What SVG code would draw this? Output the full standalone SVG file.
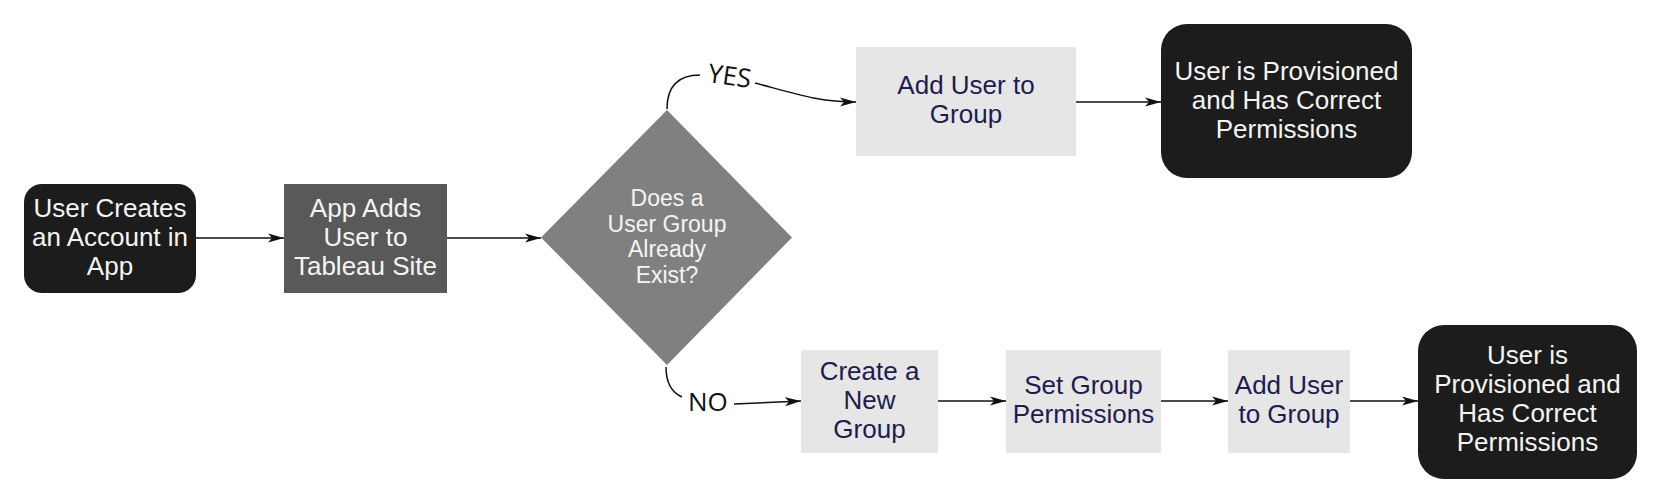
<svg xmlns="http://www.w3.org/2000/svg" width="1664" height="502" viewBox="0 0 1664 502">
<style>
.t{font-family:"Liberation Sans",Arial,sans-serif;font-size:26px;text-anchor:middle}
.w{fill:#f4f4f4}
.n{fill:#1e1c4e}
.d{font-family:"Liberation Sans",Arial,sans-serif;font-size:23px;text-anchor:middle;fill:#f4f4f4}
.lbl{font-family:"Open Sans","DejaVu Sans",sans-serif;font-size:26px;fill:#111}
.c{fill:none;stroke:#111;stroke-width:1.5}
.dark{fill:#1c1c1c}
.light{fill:#e6e6e6}
</style>
<defs>
<marker id="ah" markerWidth="16" markerHeight="10" refX="16" refY="5" orient="auto" markerUnits="userSpaceOnUse">
<path d="M0,0.5 L16,5 L0,9.5 L4,5 Z" fill="#111"/>
</marker>
</defs>
<rect width="1664" height="502" fill="#ffffff"/>
<g id="connectors">
<path class="c" d="M196,238 L284,238" marker-end="url(#ah)"/>
<path class="c" d="M447,238 L541,238" marker-end="url(#ah)"/>
<path class="c" d="M667,109 C667,88 676,75 700,75"/>
<path class="c" d="M755,83 C800,95 820,102 856,102" marker-end="url(#ah)"/>
<path class="c" d="M1076,102 L1161,102" marker-end="url(#ah)"/>
<path class="c" d="M666,367 C666,384 673,393 682,397"/>
<path class="c" d="M734,404 L801,401" marker-end="url(#ah)"/>
<path class="c" d="M938,401 L1006,401" marker-end="url(#ah)"/>
<path class="c" d="M1161,401 L1228,401" marker-end="url(#ah)"/>
<path class="c" d="M1350,401 L1418,401" marker-end="url(#ah)"/>
<text class="lbl" transform="translate(707,82) rotate(8)">YES</text>
<text class="lbl" x="688" y="411">NO</text>
</g>
<g id="start">
<rect class="dark" x="24" y="184" width="172" height="109" rx="18"/>
<text class="t w" x="110" y="217">User Creates</text>
<text class="t w" x="110" y="246">an Account in</text>
<text class="t w" x="110" y="275">App</text>
</g>
<g id="appadds">
<rect x="284" y="184" width="163" height="109" fill="#595959"/>
<text class="t w" x="365.5" y="217">App Adds</text>
<text class="t w" x="365.5" y="246">User to</text>
<text class="t w" x="365.5" y="275">Tableau Site</text>
</g>
<g id="decision">
<polygon points="667,110 792,237.5 667,365 541,237.5" fill="#808080"/>
<text class="d" x="667" y="206">Does a</text>
<text class="d" x="667" y="232">User Group</text>
<text class="d" x="667" y="257">Already</text>
<text class="d" x="667" y="283">Exist?</text>
</g>
<g id="addUserYes">
<rect class="light" x="856" y="47" width="220" height="109"/>
<text class="t n" x="966" y="94">Add User to</text>
<text class="t n" x="966" y="123">Group</text>
</g>
<g id="provisionedTop">
<rect class="dark" x="1161" y="24" width="251" height="154" rx="26"/>
<text class="t w" x="1286.5" y="80">User is Provisioned</text>
<text class="t w" x="1286.5" y="109">and Has Correct</text>
<text class="t w" x="1286.5" y="138">Permissions</text>
</g>
<g id="createGroup">
<rect class="light" x="801" y="350" width="137" height="103"/>
<text class="t n" x="869.5" y="380">Create a</text>
<text class="t n" x="869.5" y="409">New</text>
<text class="t n" x="869.5" y="438">Group</text>
</g>
<g id="setPermissions">
<rect class="light" x="1006" y="350" width="155" height="103"/>
<text class="t n" x="1083.5" y="394">Set Group</text>
<text class="t n" x="1083.5" y="423">Permissions</text>
</g>
<g id="addUserNo">
<rect class="light" x="1228" y="350" width="122" height="103"/>
<text class="t n" x="1289" y="394">Add User</text>
<text class="t n" x="1289" y="423">to Group</text>
</g>
<g id="provisionedBottom">
<rect class="dark" x="1418" y="325" width="219" height="154" rx="26"/>
<text class="t w" x="1527.5" y="364">User is</text>
<text class="t w" x="1527.5" y="393">Provisioned and</text>
<text class="t w" x="1527.5" y="422">Has Correct</text>
<text class="t w" x="1527.5" y="451">Permissions</text>
</g>
</svg>
